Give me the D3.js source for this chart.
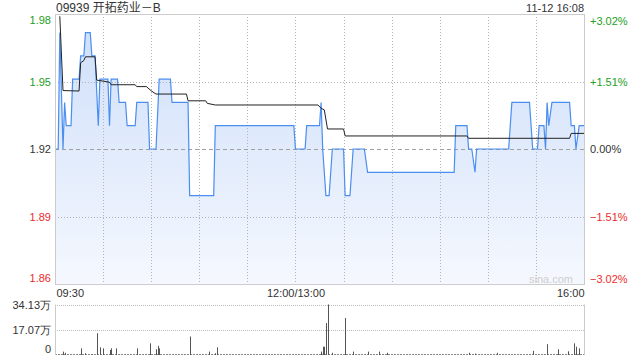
<!DOCTYPE html>
<html>
<head>
<meta charset="utf-8">
<script src="https://cdn.jsdelivr.net/npm/d3@7"></script>
<style>
  body { margin: 0; background: #fff; }
  svg { display: block; font-family: "Liberation Sans", Arial, "Noto Sans CJK SC", sans-serif; }
  .axis text { font-size: 11px; }
  .axis .domain { display: none; }
</style>
</head>
<body>
<script>
// chart values (minutes since 09:30, lunch removed)
var title = "09939 开拓药业－B";
var stamp = "11-12 16:08";
var prevClose = 1.92;
var pctTicks = [3.02, 1.51, 0, -1.51, -3.02];
var timeTicks = [0, 150, 330];
var timeLabels = ["09:30", "12:00/13:00", "16:00"];

// last price
var priceMinutes = [0, 2, 3, 5, 6, 7, 10, 11, 15, 16, 18, 19, 22, 23, 25, 27, 28, 33, 34, 35, 39, 40, 44, 45, 50, 51, 58, 59, 63, 65, 72, 73, 83, 84, 99, 100,
  149, 150, 156, 157, 165, 166, 167, 169, 171, 173, 180, 181, 184, 186, 193, 195, 249, 250, 257, 258, 260, 262, 263, 283, 285, 296, 298, 301, 302, 305, 306, 307, 308, 310, 321, 322, 324, 325, 327, 330];
var prices = [1.92, 1.92, 1.97, 1.92, 1.94, 1.93, 1.93, 1.95, 1.95, 1.96, 1.96, 1.97, 1.97, 1.96, 1.96, 1.93, 1.95, 1.95, 1.93, 1.95, 1.95, 1.94, 1.94, 1.93, 1.93, 1.94, 1.94, 1.92, 1.92, 1.95, 1.95, 1.94, 1.94, 1.90, 1.90, 1.93,
  1.93, 1.92, 1.92, 1.93, 1.93, 1.94, 1.92, 1.90, 1.90, 1.92, 1.92, 1.90, 1.90, 1.92, 1.92, 1.91, 1.91, 1.93, 1.93, 1.92, 1.92, 1.91, 1.92, 1.92, 1.94, 1.94, 1.92, 1.92, 1.93, 1.93, 1.92, 1.94, 1.93, 1.94, 1.94, 1.93, 1.93, 1.92, 1.93, 1.93];

// average price
var avgMinutes = [3, 5, 15, 16, 18, 19, 25, 26, 34, 35, 50, 51, 57, 60, 63, 82, 83, 94, 95, 100, 164, 166, 168, 170, 180, 181, 257, 258, 321, 322, 330];
var avgPrices = [1.977, 1.9451, 1.9449, 1.957, 1.958, 1.9596, 1.9596, 1.9496, 1.9487, 1.9476, 1.9476, 1.9468, 1.9468, 1.945, 1.9436, 1.9436, 1.9407, 1.9407, 1.9396, 1.9389,
  1.9389, 1.9375, 1.9368, 1.9286, 1.9286, 1.9256, 1.9256, 1.9246, 1.9246, 1.9267, 1.9267];

// volume, in 万 shares
var volTicks = [34.13, 17.07, 0];
var volMinutes = [5, 6, 16, 19, 23, 26, 28, 30, 34, 35, 38, 51, 59, 63, 64, 65, 84, 96, 100, 101,
  166, 167, 168, 169, 170, 173, 181, 186, 195, 202, 207, 258, 262, 276, 298, 307, 314, 320, 324, 325, 327];
var volumes = [2.3, 1.5, 4.5, 1.2, 0.6, 14.7, 5.2, 4.5, 3.4, 4.5, 4.5, 4.5, 7.9, 3.9, 6.2, 4.5, 12.5, 2.3, 1.2, 5.2,
  2.3, 5.6, 5.6, 21.6, 34.13, 1.5, 25, 2.3, 2.3, 2.3, 1.5, 1.5, 1.0, 1.5, 2.8, 7.3, 3.9, 2.5, 7.9, 5.6, 4.5];

var green = "#22a022", red = "#ee2b2b", grey = "#333";

(function(){
    var width = 640, height = 360;
    var left = 55, right = 584, top = 14, bottom = 284;
    var volTop = 304.5, volBottom = 355;

    var svg = d3.select("body").append("svg")
        .attr("width", width)
        .attr("height", height);

    //scales
    var x = d3.scaleLinear().domain([0, 330]).range([left, right]);
    var y = d3.scaleLinear()
        .domain([prevClose * (1 - 0.0302), prevClose * (1 + 0.0302)])
        .range([bottom, top]);
    var yPct = d3.scaleLinear().domain([-3.02, 3.02]).range([bottom, top]);
    var yVol = d3.scaleLinear().domain([0, 34.13]).range([volBottom, volTop]);

    function tone(p){
        return p > 0 ? green : (p < 0 ? red : grey);
    }

    //gradient for the area
    var grad = svg.append("defs").append("linearGradient")
        .attr("id", "fillGrad")
        .attr("x1", 0).attr("y1", 0).attr("x2", 0).attr("y2", 1);
    grad.append("stop").attr("offset", "0%").attr("stop-color", "#d0e0fa");
    grad.append("stop").attr("offset", "100%").attr("stop-color", "#f5f8fe");
    svg.select("defs").append("clipPath").attr("id", "plotClip")
        .append("rect").attr("x", left).attr("y", top)
        .attr("width", right - left).attr("height", bottom - top);

    //title and time stamp
    svg.append("text").attr("x", 56).attr("y", 12)
        .style("font-size", "12px").style("fill", grey).text(title);
    svg.append("text").attr("x", right).attr("y", 12)
        .attr("text-anchor", "end")
        .style("font-size", "11px").style("fill", grey).text(stamp);

    //area + price line
    var area = d3.area()
        .x(function(d){ return x(d[0]); })
        .y0(bottom)
        .y1(function(d){ return y(d[1]); });
    var line = d3.line()
        .x(function(d){ return x(d[0]); })
        .y(function(d){ return y(d[1]); });
    var pricePts = priceMinutes.map(function(m, i){ return [m, prices[i]]; });
    var avgPts = avgMinutes.map(function(m, i){ return [m, avgPrices[i]]; });

    var plot = svg.append("g").attr("clip-path", "url(#plotClip)");
    plot.append("path").datum(pricePts)
        .attr("d", area)
        .style("fill", "url(#fillGrad)");

    //vertical grid lines every 30 min (drawn over the fill)
    var vGrid = d3.range(30, 330, 30);
    svg.selectAll(".vgrid").data(vGrid).enter().append("line")
        .attr("class", "vgrid")
        .attr("x1", function(d){ return Math.round(x(d)) + 0.5; })
        .attr("x2", function(d){ return Math.round(x(d)) + 0.5; })
        .attr("y1", top).attr("y2", bottom)
        .style("stroke", "#b4b4b4").style("stroke-dasharray", "1,2");

    //horizontal grid lines
    var hGrid = pctTicks.slice(1, 4);
    svg.selectAll(".hgrid").data(hGrid).enter().append("line")
        .attr("class", "hgrid")
        .attr("x1", left).attr("x2", right)
        .attr("y1", function(d){ return Math.round(yPct(d)) + 0.5; })
        .attr("y2", function(d){ return Math.round(yPct(d)) + 0.5; })
        .style("stroke", function(d){ return d == 0 ? "#a0a0a0" : "#b4b4b4"; })
        .style("stroke-dasharray", function(d){ return d == 0 ? "4,3" : "1,2"; });

    var lines = svg.append("g").attr("clip-path", "url(#plotClip)");
    lines.append("path").datum(pricePts)
        .attr("d", line)
        .style("fill", "none").style("stroke", "#4a8ef0").style("stroke-width", 1.2);
    lines.append("path").datum(avgPts)
        .attr("d", line)
        .style("fill", "none").style("stroke", "#222").style("stroke-width", 1);

    //watermark
    svg.append("text").attr("x", 573).attr("y", 283)
        .attr("text-anchor", "end")
        .style("font-size", "11px").style("fill", "#cfcfcf").text("sina.com");

    //frame
    svg.append("rect").attr("x", left + 0.5).attr("y", top + 0.5)
        .attr("width", right - left).attr("height", bottom - top)
        .style("fill", "none").style("stroke", "#cccccc");

    //left price axis
    var yAxis = d3.axisLeft(yPct)
        .tickValues(pctTicks)
        .tickSize(0).tickPadding(4)
        .tickFormat(function(d){ return d3.format(".2f")(prevClose * (1 + d / 100)); });
    var gl = svg.append("g").attr("class", "axis")
        .attr("transform", "translate(" + left + ",0)")
        .call(yAxis);
    gl.selectAll("text").style("fill", function(d){ return tone(d); })
        .attr("y", function(d){ return d == 3.02 ? 6 : (d == -3.02 ? -6 : 0); });

    //right pct axis
    var rAxis = d3.axisRight(yPct)
        .tickValues(pctTicks)
        .tickSize(0).tickPadding(6)
        .tickFormat(function(d){ return (d > 0 ? "+" : "") + d3.format(".2f")(d) + "%"; });
    var gr = svg.append("g").attr("class", "axis")
        .attr("transform", "translate(" + right + ",0)")
        .call(rAxis);
    gr.selectAll("text").style("fill", function(d){ return tone(d); })
        .attr("y", function(d){ return d == 3.02 ? 7 : (d == -3.02 ? -5 : 0); });

    //time axis
    var xAxis = d3.axisBottom(x)
        .tickValues(timeTicks)
        .tickSize(0).tickPadding(5)
        .tickFormat(function(d, i){ return timeLabels[i]; });
    var gx = svg.append("g").attr("class", "axis")
        .attr("transform", "translate(0," + bottom + ")")
        .call(xAxis);
    gx.selectAll("text").style("fill", grey)
        .attr("text-anchor", function(d, i){ return i == 0 ? "start" : (i == 2 ? "end" : "middle"); })
        .attr("x", function(d, i){ return i == 0 ? 1 : 0; });

    //volume panel
    svg.selectAll(".vgridVol").data(volTicks.slice(0, 2)).enter().append("line")
        .attr("x1", left).attr("x2", right)
        .attr("y1", function(d){ return Math.round(yVol(d)) + 0.5; })
        .attr("y2", function(d){ return Math.round(yVol(d)) + 0.5; })
        .style("stroke", "#bbb").style("stroke-dasharray", "1,1");
    svg.append("line")
        .attr("x1", left).attr("x2", right)
        .attr("y1", volBottom - 0.5).attr("y2", volBottom - 0.5)
        .style("stroke", "#888").style("stroke-dasharray", "2,1");
    svg.append("line").attr("x1", left + 0.5).attr("x2", left + 0.5)
        .attr("y1", volTop).attr("y2", volBottom).style("stroke", "#ccc");
    svg.append("line").attr("x1", right + 0.5).attr("x2", right + 0.5)
        .attr("y1", volTop).attr("y2", volBottom).style("stroke", "#ccc");

    svg.selectAll(".bars").data(volMinutes).enter().append("rect")
        .attr("class", "bars")
        .attr("x", function(d){ return Math.round(x(d)); })
        .attr("width", 1)
        .attr("y", function(d, i){ return yVol(volumes[i]); })
        .attr("height", function(d, i){ return volBottom - yVol(volumes[i]); })
        .style("fill", "#555");

    var vAxis = d3.axisLeft(yVol)
        .tickValues(volTicks)
        .tickSize(0).tickPadding(4)
        .tickFormat(function(d){ return d == 0 ? "0" : d3.format(".2f")(d) + "万"; });
    var gv = svg.append("g").attr("class", "axis")
        .attr("transform", "translate(" + left + ",0)")
        .call(vAxis);
    gv.selectAll("text").style("fill", grey)
        .attr("y", function(d){ return d == 0 ? -6 : 0; });
})();
</script>
</body>
</html>
